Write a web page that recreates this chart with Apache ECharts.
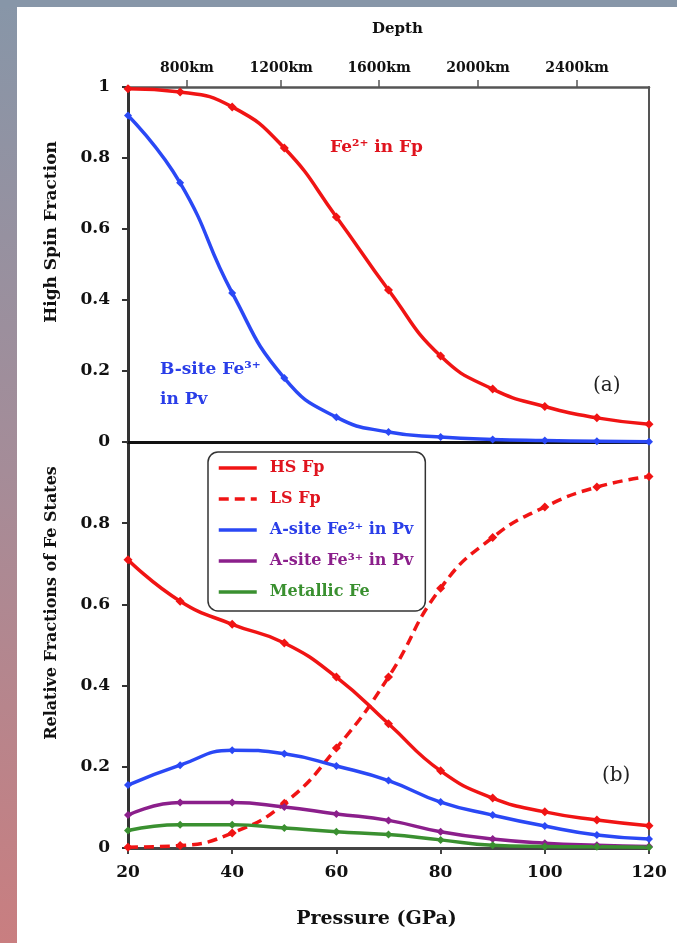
<!DOCTYPE html>
<html>
<head>
<meta charset="utf-8">
<script src="https://cdn.jsdelivr.net/npm/echarts@6/dist/echarts.min.js"></script>
<style>
html,body{margin:0;padding:0;background:#fff;}
#chart{width:677px;height:943px;}
</style>
</head>
<body>
<div id="chart"></div>
<script>
// ---- data ----
const pressures = [20, 30, 40, 50, 60, 70, 80, 90, 100, 110, 120];
// panel (a): high spin fraction
const fe2InFp   = [0.995, 0.986, 0.944, 0.828, 0.634, 0.428, 0.242, 0.149, 0.100, 0.068, 0.050];
const bSiteFe3  = [0.920, 0.730, 0.420, 0.180, 0.070, 0.028, 0.014, 0.007, 0.004, 0.002, 0.001];
// panel (b): relative fractions of Fe states
const hsFp      = [0.710, 0.608, 0.551, 0.505, 0.421, 0.306, 0.190, 0.123, 0.089, 0.069, 0.055];
const lsFp      = [0.002, 0.006, 0.037, 0.110, 0.246, 0.421, 0.640, 0.765, 0.840, 0.889, 0.915];
const aSiteFe2  = [0.155, 0.204, 0.241, 0.232, 0.202, 0.166, 0.113, 0.081, 0.054, 0.032, 0.022];
const aSiteFe3  = [0.081, 0.112, 0.112, 0.101, 0.084, 0.068, 0.040, 0.022, 0.012, 0.007, 0.004];
const metallic  = [0.043, 0.057, 0.057, 0.049, 0.040, 0.033, 0.020, 0.007, 0.004, 0.003, 0.002];
// top depth axis: tick labels and their pressure positions (GPa)
const depthLabels    = ['800km', '1200km', '1600km', '2000km', '2400km'];
const depthPressures = [31.3, 49.4, 68.2, 87.2, 106.2];
const seriesNames = ['HS Fp', 'LS Fp', 'A-site Fe\u00B2\u207A in Pv', 'A-site Fe\u00B3\u207A in Pv', 'Metallic Fe'];

const RED = '#f01414', BLUE = '#2a48f5', PURPLE = '#8b1f8b', GREEN = '#3a9030';
const FONT = 'DejaVu Serif';
const pair = arr => pressures.map((p, i) => [p, arr[i]]);

const chart = echarts.init(document.getElementById('chart'), null, {renderer: 'canvas'});

const tickLabel = {fontFamily: FONT, fontWeight: 'bold', fontSize: 17, color: '#111'};
function lineSeries(name, data, color, xi, yi, opts) {
  return Object.assign({
    name: name, type: 'line', data: pair(data), xAxisIndex: xi, yAxisIndex: yi,
    smooth: 0.5, symbol: 'diamond', symbolSize: 9,
    lineStyle: {color: color, width: 3.5}, itemStyle: {color: color},
    clip: false, z: 3
  }, opts || {});
}

const option = {
  backgroundColor: '#ffffff',
  animation: false,
  grid: [
    {left: 128, top: 87, width: 521, height: 355},
    {left: 128, top: 442, width: 521, height: 406}
  ],
  xAxis: [
    {gridIndex: 0, type: 'value', min: 20, max: 120, position: 'bottom',
     axisLine: {onZero: false, lineStyle: {color: '#111', width: 3}}, axisTick: {show: false},
     axisLabel: {show: false}, splitLine: {show: false}},
    {gridIndex: 0, type: 'value', min: 20, max: 120, position: 'top',
     name: 'Depth', nameLocation: 'middle', nameGap: 50,
     nameTextStyle: {fontFamily: FONT, fontWeight: 'bold', fontSize: 15, color: '#111', padding: [0, 0, 0, 18]},
     axisLine: {onZero: false, lineStyle: {color: '#555', width: 2.5}},
     axisTick: {show: true, customValues: depthPressures, length: 7, lineStyle: {color: '#555', width: 1.5}},
     axisLabel: {customValues: depthPressures, margin: 12, fontFamily: FONT, fontWeight: 'bold', fontSize: 14, color: '#111',
       formatter: v => depthLabels[depthPressures.indexOf(v)] || ''},
     splitLine: {show: false}},
    {gridIndex: 1, type: 'value', min: 20, max: 120, interval: 20, position: 'bottom',
     name: 'Pressure (GPa)', nameLocation: 'middle', nameGap: 62,
     nameTextStyle: {fontFamily: FONT, fontWeight: 'bold', fontSize: 19, color: '#111', padding: [0, 24, 0, 0]},
     axisLine: {onZero: false, lineStyle: {color: '#444', width: 3}},
     axisTick: {length: 6, lineStyle: {color: '#444', width: 2}},
     axisLabel: Object.assign({margin: 16}, tickLabel),
     splitLine: {show: false}}
  ],
  yAxis: [
    {gridIndex: 0, type: 'value', min: 0, max: 1, interval: 0.2,
     axisLine: {show: true, onZero: false, lineStyle: {color: '#333', width: 3}},
     axisTick: {show: true, length: 6, lineStyle: {color: '#333', width: 2}},
     axisLabel: Object.assign({margin: 18, formatter: v => v === 0 ? '0' : (v === 1 ? '1' : v.toFixed(1))}, tickLabel),
     splitLine: {show: false}},
    {gridIndex: 1, type: 'value', min: 0, max: 1, interval: 0.2,
     axisLine: {show: true, onZero: false, lineStyle: {color: '#333', width: 3}},
     axisTick: {show: true, length: 6, lineStyle: {color: '#333', width: 2}},
     axisLabel: Object.assign({margin: 18, formatter: v => v === 0 ? '0' : (v >= 1 ? '' : v.toFixed(1))}, tickLabel),
     splitLine: {show: false}},
    {gridIndex: 0, type: 'value', min: 0, max: 1, position: 'right',
     axisLine: {show: true, onZero: false, lineStyle: {color: '#555', width: 2}},
     axisTick: {show: false}, axisLabel: {show: false}, splitLine: {show: false}},
    {gridIndex: 1, type: 'value', min: 0, max: 1, position: 'right',
     axisLine: {show: true, onZero: false, lineStyle: {color: '#555', width: 2}},
     axisTick: {show: false}, axisLabel: {show: false}, splitLine: {show: false}}
  ],
  legend: {
    left: 208, top: 452, orient: 'vertical',
    itemWidth: 38, itemHeight: 14, itemGap: 11,
    padding: [6, 12, 9, 9],
    backgroundColor: '#fff', borderColor: '#333', borderWidth: 1.5, borderRadius: 10,
    itemStyle: {opacity: 0},
    lineStyle: {width: 3.5},
    textStyle: {fontFamily: FONT, fontWeight: 'bold', fontSize: 16, lineHeight: 20, padding: [0, 0, 0, 8]},
    data: [
      {name: seriesNames[0], textStyle: {color: '#e0141e'}},
      {name: seriesNames[1], textStyle: {color: '#e0141e'}},
      {name: seriesNames[2], textStyle: {color: '#2a3ee8'}},
      {name: seriesNames[3], textStyle: {color: '#8b1f8b'}},
      {name: seriesNames[4], textStyle: {color: '#3a9030'}}
    ]
  },
  graphic: [
    {type: 'rect', left: 0, top: 0, z: -10, silent: true,
     shape: {width: 17, height: 943},
     style: {fill: new echarts.graphic.LinearGradient(0, 0, 0, 1, [
       {offset: 0, color: '#8796a8'}, {offset: 0.5, color: '#a58c98'}, {offset: 1, color: '#c97e80'}])}},
    {type: 'rect', left: 0, top: 0, z: -10, silent: true,
     shape: {width: 677, height: 7}, style: {fill: '#8796a8'}},
    {type: 'text', x: 52, y: 232, rotation: Math.PI / 2, z: 10,
     style: {text: 'High Spin Fraction', fontFamily: FONT, fontWeight: 'bold', fontSize: 17, fill: '#111',
             align: 'center', verticalAlign: 'middle'}},
    {type: 'text', x: 52, y: 603, rotation: Math.PI / 2, z: 10,
     style: {text: 'Relative Fractions of Fe States', fontFamily: FONT, fontWeight: 'bold', fontSize: 16, fill: '#111',
             align: 'center', verticalAlign: 'middle'}},
    {type: 'text', x: 330, y: 148, z: 10,
     style: {text: 'Fe\u00B2\u207A in Fp', fontFamily: FONT, fontWeight: 'bold', fontSize: 17, fill: '#e0141e',
             align: 'left', verticalAlign: 'middle'}},
    {type: 'text', x: 160, y: 385, z: 10,
     style: {text: 'B-site Fe\u00B3\u207A\nin Pv', fontFamily: FONT, fontWeight: 'bold', fontSize: 17, lineHeight: 30,
             fill: '#2a3ee8', align: 'left', verticalAlign: 'middle'}},
    {type: 'text', x: 593, y: 386, z: 10,
     style: {text: '(a)', fontFamily: FONT, fontSize: 20, fill: '#222', align: 'left', verticalAlign: 'middle'}},
    {type: 'text', x: 602, y: 776, z: 10,
     style: {text: '(b)', fontFamily: FONT, fontSize: 20, fill: '#222', align: 'left', verticalAlign: 'middle'}}
  ],
  series: [
    lineSeries('Fe2+ in Fp', fe2InFp, RED, 0, 0),
    lineSeries('B-site Fe3+ in Pv', bSiteFe3, BLUE, 0, 0, {symbolSize: 8}),
    lineSeries(seriesNames[0], hsFp, RED, 2, 1),
    lineSeries(seriesNames[1], lsFp, RED, 2, 1, {lineStyle: {color: RED, width: 3.5, type: [10, 6]}}),
    lineSeries(seriesNames[2], aSiteFe2, BLUE, 2, 1, {symbolSize: 8}),
    lineSeries(seriesNames[3], aSiteFe3, PURPLE, 2, 1, {symbolSize: 8}),
    lineSeries(seriesNames[4], metallic, GREEN, 2, 1, {symbolSize: 8})
  ]
};
chart.setOption(option);
</script>
</body>
</html>
